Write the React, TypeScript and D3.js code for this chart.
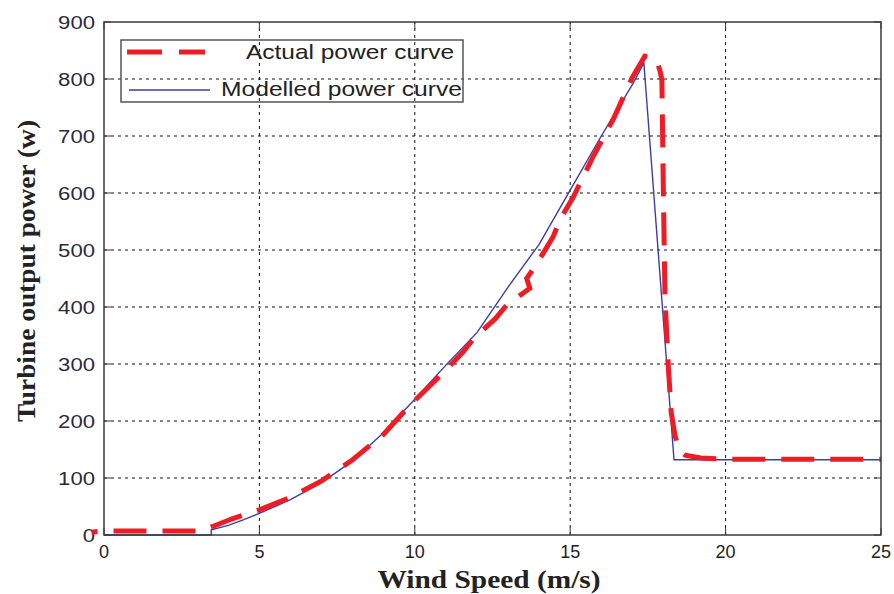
import React from 'react'
import * as d3 from 'd3'

// wind speed (m/s) and power (W)
const modelledSpeed = [0, 3.45, 3.45, 4, 4.5, 5, 6, 7, 8, 9, 10, 11, 12, 13, 14, 15, 16, 17, 17.37, 18.34, 25]
const modelledPower = [0, 0, 9, 17, 27, 38, 62, 92, 130, 180, 238, 298, 355, 435, 510, 605, 700, 790, 828, 132, 132]

const actualSpeed = [-0.4, 0, 1, 2, 3.1, 3.5, 4.1, 5, 6, 7, 8, 9, 9.85, 10.9, 11.55, 11.9, 12.6, 12.95, 13.7, 13.6, 13.96, 14.45, 14.67, 15.1, 15.73, 16.4, 17.0, 17.4, 17.65, 17.8, 17.9, 17.95, 18.0, 18.05, 18.15, 18.25, 18.37, 18.5, 18.7, 19.2, 20, 25]
const actualPower = [5, 7, 7, 7, 7, 15, 28, 44, 66, 95, 132, 177, 228, 284, 321, 345, 380, 403, 433, 450, 479, 523, 553, 593, 663, 731, 803, 840, 838, 830, 812, 798, 593, 417, 302, 215, 175, 150, 140, 135, 133, 133]

const xTicks = [0, 5, 10, 15, 20, 25]
const yTicks = [0, 100, 200, 300, 400, 500, 600, 700, 800, 900]

const legendLabels = ['Actual power curve', 'Modelled power curve']

const W = 894
const H = 594

function App() {
    const x = d3.scaleLinear().domain([0, 25]).range([104, 881])
    const y = d3.scaleLinear().domain([0, 900]).range([535, 22])

    const line = d3.line<[number, number]>()
        .x(d => x(d[0]))
        .y(d => y(d[1]))

    const modelled = modelledSpeed.map((s, i) => [s, modelledPower[i]] as [number, number])
    const actual = actualSpeed.map((s, i) => [s, actualPower[i]] as [number, number])

    const [x0, x1] = x.range()
    const [y0, y1] = y.range()
    const axisColor = '#3a3a3a'
    const red = '#ee1c25'
    const blue = '#3c3ca8'

    return (
        <svg width={W} height={H} style={{ position: 'absolute', left: 0, top: 0, background: '#fff' }}>
            {/* grid */}
            {xTicks.filter(t => t > 0 && t < 25).map(t => (
                <line key={'gx' + t} x1={x(t)} x2={x(t)} y1={y0} y2={y1}
                    stroke="#111" strokeWidth={1} strokeDasharray="3,4" />
            ))}
            {yTicks.filter(t => t > 0 && t < 900).map(t => (
                <line key={'gy' + t} x1={x0} x2={x1} y1={y(t)} y2={y(t)}
                    stroke="#111" strokeWidth={1} strokeDasharray="3,4" />
            ))}

            {/* ticks */}
            {xTicks.map(t => (
                <g key={'tx' + t}>
                    <line x1={x(t)} x2={x(t)} y1={y0} y2={y0 - 7} stroke={axisColor} />
                    <line x1={x(t)} x2={x(t)} y1={y1} y2={y1 + 7} stroke={axisColor} />
                    <text x={x(t)} y={558} textAnchor="middle" fontFamily="Arial, 'Liberation Sans', sans-serif"
                        fontSize={18} fill="#222">{t}</text>
                </g>
            ))}
            {yTicks.map(t => (
                <g key={'ty' + t}>
                    <line x1={x0} x2={x0 + 7} y1={y(t)} y2={y(t)} stroke={axisColor} />
                    <line x1={x1} x2={x1 - 7} y1={y(t)} y2={y(t)} stroke={axisColor} />
                    <text x={95} y={y(t) + 6.5} textAnchor="end" fontFamily="Arial, 'Liberation Sans', sans-serif"
                        fontSize={18} fill="#2a2a3a"
                        textLength={String(t).length * 12.3} lengthAdjust="spacingAndGlyphs">{t}</text>
                </g>
            ))}

            {/* curves */}
            <path d={line(modelled) || ''} fill="none" stroke={blue} strokeWidth={1.4} />
            <path d={line(actual) || ''} fill="none" stroke={red} strokeWidth={5}
                strokeDasharray="33,16" strokeDashoffset={27} />

            {/* frame */}
            <rect x={x0} y={y1} width={x1 - x0} height={y0 - y1} fill="none" stroke={axisColor} strokeWidth={1.5} />

            {/* legend */}
            <rect x={121} y={40} width={342} height={62} fill="none" stroke="#555" strokeWidth={1.5} />
            <line x1={127} x2={205} y1={52} y2={52} stroke={red} strokeWidth={5} strokeDasharray="35,17" />
            <line x1={129} x2={210} y1={90} y2={90} stroke={blue} strokeWidth={1.4} />
            <text x={246} y={59} fontFamily="Arial, 'Liberation Sans', sans-serif" fontSize={21} fill="#222"
                textLength={208} lengthAdjust="spacingAndGlyphs">{legendLabels[0]}</text>
            <text x={221} y={96} fontFamily="Arial, 'Liberation Sans', sans-serif" fontSize={21} fill="#222"
                textLength={241} lengthAdjust="spacingAndGlyphs">{legendLabels[1]}</text>

            {/* axis titles */}
            <text x={489} y={588} textAnchor="middle" fontFamily="'Liberation Serif', 'Times New Roman', serif"
                fontWeight="bold" fontSize={25} fill="#222" textLength={223} lengthAdjust="spacingAndGlyphs">
                Wind Speed (m/s)
            </text>
            <text transform="translate(35,271) rotate(-90)" textAnchor="middle"
                fontFamily="'Liberation Serif', 'Times New Roman', serif"
                fontWeight="bold" fontSize={26} fill="#222" textLength={302} lengthAdjust="spacingAndGlyphs">
                Turbine output power (w)
            </text>
        </svg>
    )
}

export default App
